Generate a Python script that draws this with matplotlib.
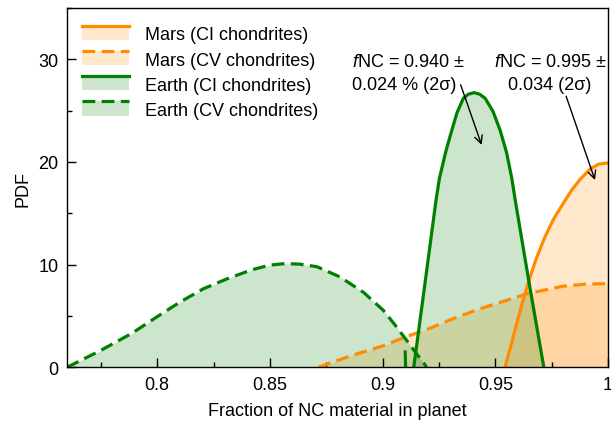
import numpy as np
import matplotlib
matplotlib.use("Agg")
import matplotlib.pyplot as plt
from matplotlib.patches import Rectangle
from matplotlib.lines import Line2D
from matplotlib.legend_handler import HandlerBase
from matplotlib.ticker import MultipleLocator

plt.rcParams['font.family'] = ['Liberation Sans', 'DejaVu Sans']
plt.rcParams['mathtext.fontset'] = 'custom'
plt.rcParams['mathtext.rm'] = 'Liberation Sans'
plt.rcParams['mathtext.it'] = 'Liberation Sans:italic'

# ---------------- data ----------------
earth_cv_x = [0.7600, 0.7746, 0.7887, 0.7998, 0.8101, 0.8205, 0.8308, 0.8420, 0.8500,
              0.8565, 0.8630, 0.8708, 0.8811, 0.8915, 0.9003, 0.9063, 0.9107, 0.9151,
              0.9180, 0.9195]
earth_cv_y = [0.0, 1.6, 3.3, 4.9, 6.35, 7.65, 8.6, 9.5, 9.95,
              10.1, 10.05, 9.8, 8.8, 7.3, 5.55, 3.9, 2.6, 1.3,
              0.5, 0.0]

earth_ci_x = [0.9100, 0.9102, np.nan, 0.9138, 0.9188, 0.9237, 0.9252, 0.9280, 0.9307,
              0.9330, 0.9358, 0.9380, 0.9406, 0.9430, 0.9455, 0.9490, 0.9521, 0.9550,
              0.9573, 0.9588, 0.9650, 0.9715]
earth_ci_y = [1.5, 0.0, np.nan, 0.0, 8.2, 16.3, 18.4, 21.0, 23.1,
              24.8, 26.2, 26.6, 26.75, 26.6, 26.2, 24.9, 23.1, 20.9,
              18.4, 16.3, 8.2, 0.0]

mars_ci_x = [0.9543, 0.9570, 0.9595, 0.9620, 0.9647, 0.9680, 0.9720, 0.9760, 0.9802,
             0.9840, 0.9876, 0.9920, 0.9960, 1.0000]
mars_ci_y = [0.0, 2.2, 4.3, 6.3, 8.3, 10.5, 12.7, 14.5, 16.0,
             17.3, 18.3, 19.3, 19.8, 19.9]

mars_cv_x = [0.8715, 0.8856, 0.9003, 0.9107, 0.9210, 0.9320, 0.9432, 0.9547, 0.9647,
             0.9802, 0.9900, 1.0000]
mars_cv_y = [0.0, 1.1, 2.1, 3.0, 3.8, 4.8, 5.7, 6.5, 7.2,
             7.9, 8.1, 8.15]

labels = ["Mars (CI chondrites)", "Mars (CV chondrites)",
          "Earth (CI chondrites)", "Earth (CV chondrites)"]

ann1_text = "$f$NC = 0.940 \u00b1\n0.024 % (2\u03c3)"
ann2_text = "$f$NC = 0.995 \u00b1\n0.034 (2\u03c3)"

orange = '#ff8c00'
green = '#008000'
DASH = (4, 2)
LW = 2.3

fig = plt.figure(figsize=(6.11, 4.27), dpi=100)
ax = fig.add_axes([0.1097, 0.1375, 0.8855, 0.8415])

# Mars first (under Earth fills)
ax.fill_between(mars_ci_x, mars_ci_y, 0, color=orange, alpha=0.2, lw=0)
ax.fill_between(mars_cv_x, mars_cv_y, 0, color=orange, alpha=0.2, lw=0)
ax.plot(mars_ci_x, mars_ci_y, color=orange, lw=LW)
ax.plot(mars_cv_x, mars_cv_y, color=orange, lw=LW, dashes=DASH)

# Earth
ax.fill_between(earth_ci_x, earth_ci_y, 0, color=green, alpha=0.2, lw=0)
ax.fill_between(earth_cv_x, earth_cv_y, 0, color=green, alpha=0.2, lw=0)
ax.plot(earth_ci_x, earth_ci_y, color=green, lw=LW)
ax.plot(earth_cv_x, earth_cv_y, color=green, lw=LW, dashes=DASH)

ax.set_xlim(0.76, 1.0)
ax.set_ylim(0, 35)
ax.xaxis.set_major_locator(MultipleLocator(0.05))
ax.xaxis.set_minor_locator(MultipleLocator(0.025))
ax.yaxis.set_major_locator(MultipleLocator(10))
ax.yaxis.set_minor_locator(MultipleLocator(5))
ax.set_xticks([0.8, 0.85, 0.9, 0.95, 1.0])
ax.set_xticklabels(["0.8", "0.85", "0.9", "0.95", "1"])
ax.tick_params(which='major', direction='in', length=6.5, width=1.0, labelsize=13, pad=6)
ax.tick_params(which='minor', direction='in', length=3.5, width=1.0)
ax.tick_params(top=False, right=False, which='both')
for s in ax.spines.values():
    s.set_linewidth(1.0)
ax.set_xlabel("Fraction of NC material in planet", fontsize=13, labelpad=7)
ax.set_ylabel("PDF", fontsize=13, labelpad=5)


class Key:
    def __init__(self, color, dashed):
        self.color = color
        self.dashed = dashed


class KeyHandler(HandlerBase):
    def create_artists(self, legend, orig_handle, xdescent, ydescent, width, height,
                       fontsize, trans):
        x0, y0 = -xdescent, -ydescent
        rect = Rectangle((x0, y0), width, height, facecolor=orig_handle.color,
                         alpha=0.2, lw=0, transform=trans)
        line = Line2D([x0, x0 + width], [y0 + height, y0 + height],
                      color=orig_handle.color, lw=LW, transform=trans)
        if orig_handle.dashed:
            line.set_dashes(DASH)
        return [rect, line]


keys = [Key(orange, False), Key(orange, True), Key(green, False), Key(green, True)]
ax.legend(keys, labels, handler_map={Key: KeyHandler()}, loc='upper left',
          bbox_to_anchor=(-0.005, 1.0), frameon=False, fontsize=13,
          handlelength=2.6, handleheight=0.85, handletextpad=0.85,
          labelspacing=0.42, borderaxespad=0.6, borderpad=0.4)

ax.text(0.8864, 28.7, ann1_text, fontsize=13, ha='left', va='center',
        multialignment='left', linespacing=1.45)
ax.text(0.9743, 28.7, ann2_text, fontsize=13, ha='center', va='center',
        multialignment='center', linespacing=1.45)
ax.annotate("", xy=(0.9439, 21.66), xytext=(0.9346, 27.52),
            arrowprops=dict(arrowstyle='->', color='black', lw=1.0,
                            mutation_scale=14, shrinkA=0, shrinkB=0))
ax.annotate("", xy=(0.9942, 18.24), xytext=(0.9814, 26.4),
            arrowprops=dict(arrowstyle='->', color='black', lw=1.0,
                            mutation_scale=14, shrinkA=0, shrinkB=0))

fig.savefig("out.png", dpi=100)
